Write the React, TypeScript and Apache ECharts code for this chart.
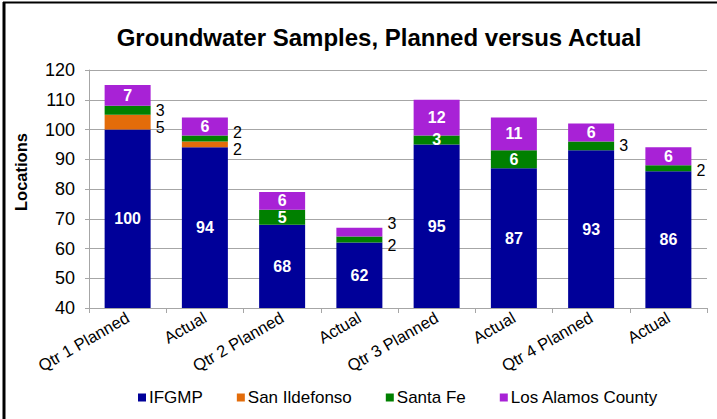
import React, { useEffect, useRef } from "react";
import * as echarts from "echarts";

const categories = ["Qtr 1 Planned", "Actual", "Qtr 2 Planned", "Actual", "Qtr 3 Planned", "Actual", "Qtr 4 Planned", "Actual"];
const ifgmp = [100, 94, 68, 62, 95, 87, 93, 86];
const sanIldefonso = [5, 2, 0, 0, 0, 0, 0, 0];
const santaFe = [3, 2, 5, 2, 3, 6, 3, 2];
const losAlamos = [7, 6, 6, 3, 12, 11, 6, 6];

const FONT = "Liberation Sans, Arial, sans-serif";

const insideLabel = { show: true, position: "inside", color: "#fff", fontWeight: "bold", fontSize: 16, fontFamily: FONT };
const outsideLabel = (dy: number) => ({ show: true, position: "right", color: "#000", fontWeight: "normal", fontSize: 16, fontFamily: FONT, distance: 5, offset: [0, dy] });

// which segments have outside labels, with vertical offsets
const siOutside: Record<number, number> = { 0: 5, 1: 5 };
const sfOutside: Record<number, number> = { 0: 0, 1: -6, 3: 6, 6: 0, 7: 2 };
const lacOutside: Record<number, number> = { 3: -9 };

function build(values: number[], outside: Record<number, number>) {
  return values.map((v, i) => {
    if (v === 0) return { value: v, label: { show: false } };
    if (i in outside) return { value: v, label: outsideLabel(outside[i]) };
    return { value: v, label: insideLabel };
  });
}

export default function App() {
  const ref = useRef<HTMLDivElement>(null);
  useEffect(() => {
    const chart = echarts.init(ref.current!, undefined, { renderer: "svg" });
    chart.setOption({
      animation: false,
      backgroundColor: "#fff",
      title: {
        text: "Groundwater Samples, Planned versus Actual",
        left: 374,
        textAlign: "center",
        top: 20,
        textStyle: { fontFamily: FONT, fontWeight: "bold", fontSize: 24, color: "#000" },
      },
      grid: { left: 89, right: 10, top: 70, bottom: 111, containLabel: false },
      legend: {
        bottom: 8,
        left: 133,
        itemWidth: 8,
        itemHeight: 8,
        itemGap: 34,
        icon: "rect",
        textStyle: { fontFamily: FONT, fontSize: 17, color: "#000", padding: [0, 0, 0, -2] },
        data: ["IFGMP", "San Ildefonso", "Santa Fe", "Los Alamos County"],
      },
      xAxis: {
        type: "category",
        data: categories,
        axisLine: { lineStyle: { color: "#a6a6a6" } },
        axisTick: { show: true, alignWithLabel: false, length: 5, lineStyle: { color: "#a6a6a6" } },
        axisLabel: { rotate: 30, color: "#000", fontFamily: FONT, fontSize: 16.5, interval: 0, margin: 8 },
      },
      yAxis: {
        type: "value",
        min: 40,
        max: 120,
        interval: 10,
        axisLine: { show: true, lineStyle: { color: "#a6a6a6" } },
        axisTick: { show: true, length: 4, lineStyle: { color: "#a6a6a6" } },
        splitLine: { lineStyle: { color: "#a6a6a6" } },
        axisLabel: { color: "#000", fontFamily: FONT, fontSize: 18, margin: 14 },
      },
      series: [
        { name: "IFGMP", type: "bar", stack: "s", barWidth: 46, itemStyle: { color: "#000099" }, data: build(ifgmp, {}) },
        { name: "San Ildefonso", type: "bar", stack: "s", barWidth: 46, itemStyle: { color: "#E36C0A" }, data: build(sanIldefonso, siOutside) },
        { name: "Santa Fe", type: "bar", stack: "s", barWidth: 46, itemStyle: { color: "#008000" }, data: build(santaFe, sfOutside) },
        { name: "Los Alamos County", type: "bar", stack: "s", barWidth: 46, itemStyle: { color: "#A822D6" }, data: build(losAlamos, lacOutside) },
      ],
      graphic: [
        { type: "line", shape: { x1: 4, y1: 2, x2: 4, y2: 419 }, style: { stroke: "#000", lineWidth: 3 } },
        { type: "line", shape: { x1: 3, y1: 2.5, x2: 717, y2: 2.5 }, style: { stroke: "#000", lineWidth: 2 } },
        {
          type: "text",
          x: 21,
          y: 172,
          rotation: Math.PI / 2,
          style: { text: "Locations", fontFamily: FONT, fontWeight: "bold", fontSize: 16.5, fill: "#000", align: "center", verticalAlign: "middle" },
        },
      ],
    });
    return () => chart.dispose();
  }, []);
  return <div ref={ref} style={{ position: "absolute", left: 0, top: 0, width: 717, height: 419 }} />;
}
